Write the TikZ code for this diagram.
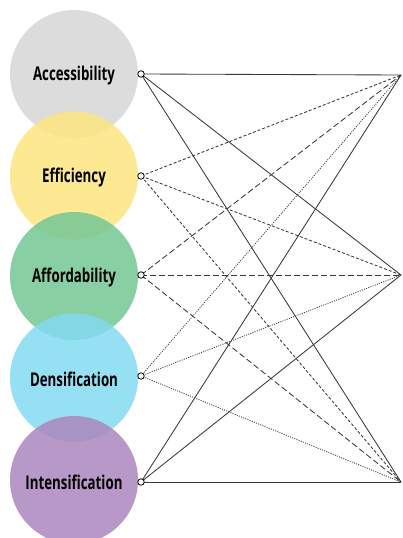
\documentclass[tikz,border=0pt]{standalone}
\usepackage{fontspec}
\usepackage{graphicx}
\newfontfamily\labfont{Open Sans}
\definecolor{cAcc}{HTML}{D6D6D6}
\definecolor{cEff}{HTML}{FDE57E}
\definecolor{cAff}{HTML}{74C794}
\definecolor{cDen}{HTML}{84DAF2}
\definecolor{cInt}{HTML}{AC86BE}
\definecolor{lnc}{HTML}{383838}
\begin{document}
\begin{tikzpicture}[x=1pt,y=-1pt,
  bigc/.style={circle,minimum size=128pt,inner sep=0pt,fill opacity=0.85,text opacity=1},
  lab/.style={font=\labfont\bfseries\fontsize{19}{21}\selectfont,yshift=-2pt},
  port/.style={circle,draw=black,fill=white,line width=0.8pt,minimum size=6.5pt,inner sep=0pt},
  conn/.style={draw=lnc,line width=0.85pt},
  sdash/.style={conn,dash pattern=on 3pt off 2pt},
  ldash/.style={conn,dash pattern=on 6pt off 3pt},
  sdot/.style={conn,dash pattern=on 1pt off 1.3pt}]
\useasboundingbox (0,0) rectangle (403,538);
\node[bigc,fill=cAcc] (acc) at (74,74) {};
\node[bigc,fill=cEff] (eff) at (74,175.5) {};
\node[bigc,fill=cAff] (aff) at (74,276) {};
\node[bigc,fill=cDen] (den) at (74,377.5) {};
\node[bigc,fill=cInt] (int) at (74,480) {};
\node[lab] (tacc) at (acc.center) {\scalebox{0.7}[1]{Accessibility}};
\node[lab] (teff) at (eff.center) {\scalebox{0.7}[1]{Efficiency}};
\node[lab] (taff) at (aff.center) {\scalebox{0.7}[1]{Affordability}};
\node[lab] (tden) at (den.center) {\scalebox{0.7}[1]{Densification}};
\node[lab] (tint) at (int.center) {\scalebox{0.7}[1]{Intensification}};
\coordinate (pacc) at (141,74);
\coordinate (peff) at (141,176);
\coordinate (paff) at (141,275);
\coordinate (pden) at (141,376);
\coordinate (pint) at (141,482);
\coordinate (r1) at (401,75);
\coordinate (r2) at (401,275);
\coordinate (r3) at (401,482);
\foreach \r in {r1,r2,r3}{
  \draw[conn] (pacc) -- (\r);
  \draw[sdash] (peff) -- (\r);
  \draw[ldash] (paff) -- (\r);
  \draw[sdot] (pden) -- (\r);
  \draw[conn] (pint) -- (\r);
}
\node[port] (qacc) at (pacc) {};
\node[port] (qeff) at (peff) {};
\node[port] (qaff) at (paff) {};
\node[port] (qden) at (pden) {};
\node[port] (qint) at (pint) {};
\end{tikzpicture}
\end{document}
